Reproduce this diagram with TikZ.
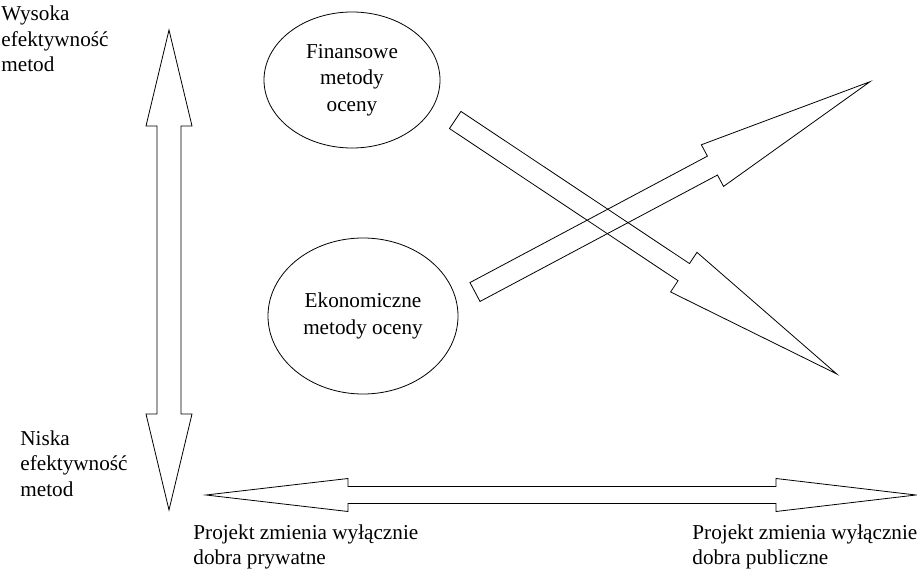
\documentclass[tikz,border=0pt]{standalone}
\usepackage{fontspec}
\setmainfont{Liberation Serif}
\usetikzlibrary{shapes.geometric}

\begin{document}
\begin{tikzpicture}[x=1pt,y=-1pt,line width=0.8pt]
  % efficiency of methods vs. kind of goods
  \tikzstyle{every node} = [inner sep=0pt]
  \tikzstyle{axistext} = [align=left, font=\fontsize{21.2}{25.5}\selectfont]
  \tikzstyle{method} = [draw, ellipse, align=center, font=\fontsize{21.2}{26.5}\selectfont]
  \tikzstyle{blockarrow} = [draw, line join=miter]

  \useasboundingbox (0,0) rectangle (917,569);

  \node[method, minimum width=176, minimum height=136] (finansowe) at (352,80) {Finansowe\\metody\\oceny};
  \node[method, minimum width=190, minimum height=156] (ekonomiczne) at (363,316) {Ekonomiczne\\metody oceny};

  \node[axistext, anchor=north west] (high) at (1,5.5) {Wysoka\\efektywność\\metod};
  \node[axistext, anchor=north west] (low) at (20,430) {Niska\\efektywność\\metod};
  \node[axistext, anchor=north west] (private) at (193,524) {Projekt zmienia wyłącznie\\dobra prywatne};
  \node[axistext, anchor=north west] (public) at (692,524) {Projekt zmienia wyłącznie\\dobra publiczne};

  % vertical axis
  \draw[blockarrow] (169,30) -- (192,126) -- (181,126) -- (181,414) -- (192,414) -- (169,510)
    -- (146,414) -- (157,414) -- (157,126) -- (146,126) -- cycle;
  % horizontal axis
  \draw[blockarrow] (206,495) -- (348,478.5) -- (348,486.5) -- (776,486.5) -- (776,478.5) -- (916,495)
    -- (776,511.5) -- (776,503.5) -- (348,503.5) -- (348,511.5) -- cycle;

  % crossing arrows
  \begin{scope}[shift={(455.2,120)}, rotate=-33.65]
    \draw[blockarrow] (0,-10.3) -- (274.6,-10.3) -- (274.6,-23.8) -- (458.3,0)
      -- (274.6,23.8) -- (274.6,10.3) -- (0,10.3) -- cycle;
  \end{scope}
  \begin{scope}[shift={(475,292)}, rotate=28.03]
    \draw[blockarrow] (0,-10.7) -- (269,-10.7) -- (269,-23.6) -- (447.5,0)
      -- (269,23.6) -- (269,10.7) -- (0,10.7) -- cycle;
  \end{scope}
\end{tikzpicture}
\end{document}
